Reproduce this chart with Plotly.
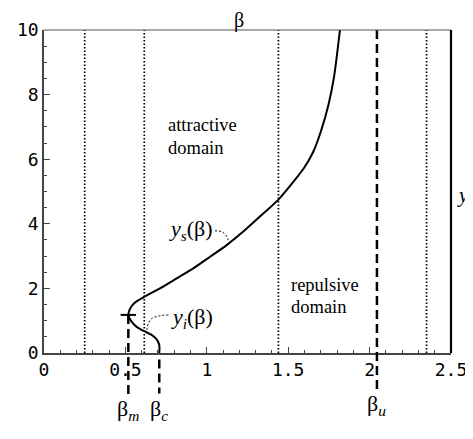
import plotly.graph_objects as go

# ---- data ----
# curve: lower branch y_i(beta) from beta_c up to the cusp, then upper branch y_s(beta)
beta_curve = [0.708, 0.708, 0.692, 0.661, 0.61, 0.569, 0.538, 0.518,
              0.532, 0.559, 0.61, 0.712, 0.815, 0.917, 1.02, 1.122, 1.224, 1.316,
              1.44, 1.54, 1.60, 1.654, 1.70, 1.747, 1.78, 1.802, 1.818]
y_curve = [0.0, 0.25, 0.42, 0.56, 0.69, 0.81, 0.97, 1.18,
           1.40, 1.56, 1.72, 2.0, 2.31, 2.62, 2.98, 3.34, 3.76, 4.18,
           4.75, 5.35, 5.75, 6.23, 6.85, 7.68, 8.5, 9.33, 10.0]

dotted_betas = [0.25, 0.616, 1.44, 2.35]
beta_m, y_m = 0.518, 1.18
beta_c = 0.708
beta_u = 2.045

x_range = [0, 2.5]
y_range = [0, 10]
x_tick_vals = [0, 0.5, 1, 1.5, 2, 2.5]
x_tick_text = ["0", "0.5", "1", "1.5", "2", "2.5"]
y_tick_vals = [0, 2, 4, 6, 8, 10]
y_tick_text = ["0", "2", "4", "6", "8", "10"]

# leader lines for the curve labels
ys_leader_x = [1.05, 1.09, 1.115, 1.128, 1.132]
ys_leader_y = [3.78, 3.76, 3.66, 3.55, 3.45]
yi_leader_x = [0.764, 0.71, 0.66, 0.64, 0.632]
yi_leader_y = [1.18, 1.15, 1.06, 0.9, 0.72]

SERIF = "Liberation Serif, Times New Roman, serif"
MONO = "DejaVu Sans Mono, monospace"

fig = go.Figure()

fig.add_trace(go.Scatter(x=beta_curve, y=y_curve, mode="lines",
                         line=dict(color="black", width=2, shape="spline", smoothing=0.8),
                         hoverinfo="skip", showlegend=False))
fig.add_trace(go.Scatter(x=[beta_m], y=[y_m], mode="markers",
                         marker=dict(symbol="line-ew-open", size=11, color="black",
                                     line=dict(color="black", width=2)),
                         hoverinfo="skip", showlegend=False, cliponaxis=False))
for lx, ly in [(ys_leader_x, ys_leader_y), (yi_leader_x, yi_leader_y)]:
    fig.add_trace(go.Scatter(x=lx, y=ly, mode="lines",
                             line=dict(color="black", width=1, dash="2px,2px", shape="spline"),
                             hoverinfo="skip", showlegend=False))

shapes = []
for b in dotted_betas:
    shapes.append(dict(type="line", xref="x", yref="y", x0=b, x1=b,
                       y0=y_range[0], y1=y_range[1],
                       line=dict(color="black", width=1.7, dash="1.5px,2px")))

dash_style = dict(color="black", width=2.5, dash="9px,5px")
# beta_m from cusp down below axis
shapes.append(dict(type="line", xref="x", yref="paper", x0=beta_m, x1=beta_m,
                   y0=y_m / y_range[1], y1=-0.13, line=dash_style))
# beta_c below axis
shapes.append(dict(type="line", xref="x", yref="paper", x0=beta_c, x1=beta_c,
                   y0=-0.02, y1=-0.125, line=dash_style))
# beta_u full height and below axis
shapes.append(dict(type="line", xref="x", yref="paper", x0=beta_u, x1=beta_u,
                   y0=1, y1=-0.115, line=dash_style))
# frame: top thin, right thick
shapes.append(dict(type="line", xref="paper", yref="paper", x0=0, x1=1, y0=1, y1=1,
                   line=dict(color="#555", width=1.2)))
shapes.append(dict(type="line", xref="paper", yref="paper", x0=1, x1=1, y0=0, y1=1,
                   line=dict(color="black", width=2.2)))

annotations = [
    dict(text="attractive", x=0.75, y=7.06, xref="x", yref="y", xanchor="left",
         showarrow=False, font=dict(family=SERIF, size=18.5, color="black")),
    dict(text="domain", x=0.75, y=6.35, xref="x", yref="y", xanchor="left",
         showarrow=False, font=dict(family=SERIF, size=18.5, color="black")),
    dict(text="repulsive", x=1.505, y=2.1, xref="x", yref="y", xanchor="left",
         showarrow=False, font=dict(family=SERIF, size=18.5, color="black")),
    dict(text="domain", x=1.505, y=1.42, xref="x", yref="y", xanchor="left",
         showarrow=False, font=dict(family=SERIF, size=18.5, color="black")),
    dict(text="<i>y</i><sub><i>s</i></sub>(β)", x=1.05, y=3.8, xref="x", yref="y",
         xanchor="right", showarrow=False, font=dict(family=SERIF, size=22, color="black")),
    dict(text="<i>y</i><sub><i>i</i></sub>(β)", x=0.77, y=1.08, xref="x", yref="y",
         xanchor="left", showarrow=False, font=dict(family=SERIF, size=22, color="black")),
    dict(text="β<sub><i>m</i></sub>", x=beta_m, y=-0.225, xref="x", yref="paper",
         showarrow=False, font=dict(family=SERIF, size=22, color="black")),
    dict(text="β<sub><i>c</i></sub>", x=beta_c, y=-0.225, xref="x", yref="paper",
         showarrow=False, font=dict(family=SERIF, size=22, color="black")),
    dict(text="β<sub><i>u</i></sub>", x=beta_u, y=-0.21, xref="x", yref="paper",
         showarrow=False, font=dict(family=SERIF, size=22, color="black")),
    dict(text="β", x=1.2, y=1.028, xref="x", yref="paper", yanchor="middle", borderpad=0,
         showarrow=False, font=dict(family=SERIF, size=20, color="black")),
    dict(text="<i>y</i>", x=1.012, y=4.89, xref="paper", yref="y", xanchor="left",
         borderpad=0, showarrow=False, font=dict(family=SERIF, size=21, color="black")),
]

axis_common = dict(ticks="inside", ticklen=6, tickwidth=1.2, tickcolor="#444",
                   showline=True, linecolor="#444", linewidth=1.5, showgrid=False,
                   zeroline=False, automargin=False, tickmode="array",
                   tickfont=dict(family=MONO, size=18, color="black"))

# the page body adds an 8px margin, so the figure is 8px smaller than the window
fig.update_layout(
    width=465, height=431,
    margin=dict(l=36, r=22, t=22, b=86),
    paper_bgcolor="white", plot_bgcolor="white",
    shapes=shapes, annotations=annotations, showlegend=False,
    xaxis=dict(range=x_range, tickvals=x_tick_vals, ticktext=x_tick_text,
               minor=dict(dtick=0.1, ticks="inside", ticklen=3, tickwidth=1, tickcolor="#444"),
               **axis_common),
    yaxis=dict(range=y_range, tickvals=y_tick_vals, ticktext=y_tick_text,
               minor=dict(dtick=0.5, ticks="inside", ticklen=3, tickwidth=1, tickcolor="#444"),
               ticklabelstandoff=0, **axis_common),
)

fig.write_html("out.html")
